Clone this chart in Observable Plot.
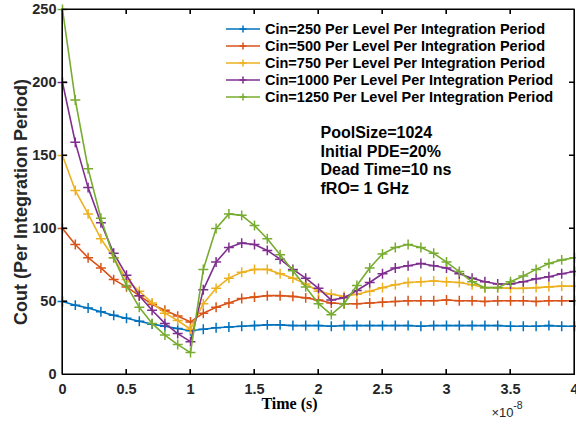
<!DOCTYPE html>
<html><head><meta charset="utf-8">
<script src="https://cdn.jsdelivr.net/npm/d3@7"></script>
<script src="https://cdn.jsdelivr.net/npm/@observablehq/plot@0.6"></script>
<style>
body{margin:0;background:#fff;overflow:hidden}
#chart{position:relative;width:576px;height:425px;overflow:hidden}
#chart svg{display:block}
.edge{position:absolute;background:#000;pointer-events:none}
</style>
</head><body><div id="chart"></div>
<script>
// Time in units of 1e-8 s
const time = [0,0.1,0.2,0.3,0.4,0.5,0.6,0.7,0.8,0.9,1.0,1.1,1.2,1.3,1.4,1.5,1.6,1.7,1.8,1.9,2.0,2.1,2.2,2.3,2.4,2.5,2.6,2.7,2.8,2.9,3.0,3.1,3.2,3.3,3.4,3.5,3.6,3.7,3.8,3.9,4.0];
const cin250 = [50,47.5,45.5,43,40.5,38.5,36.5,34.5,33,31.5,30,31,32,32.5,33,33.5,34,34,33.5,33.5,33.5,33,33.5,33.5,33.5,33.5,33.5,33.5,33,33.5,33.5,33.5,33.5,33.5,33.5,33,33,33,33.5,33,33];
const cin500 = [100,89,80,73,65,60,54,48,44,40,36,42,46,49,52,53,54,54,53.5,52.5,51,49,48.5,48.5,49,49.5,50,50.5,50.5,50.5,51,50.5,50.5,50,50.5,50.5,50.5,50,50.5,50.5,50.5];
const cin750 = [150,126,110,93,80,65,57,49,42,37,31,48.5,59,66,70,72,72,69,66,62,57,55,53.5,55,57,59.5,61.5,63,63.5,64,63.5,63,61.5,59.5,59.5,59,59,59.5,60,60.5,60.5];
const cin1000 = [200,159,128,104,83,68,54,44,35,28,22.5,58,77,87,90,89,85,79,72,66,59,51,52.5,57.5,63,69,73,74.5,76,74.5,73,69,66,63.5,62,62,63.5,65.5,67,69,70.5];
const cin1250 = [250,188,141,107,80,61,46,35,27,20.5,15,72,100,110,109,102,93,82,71,60,48.5,41,48.5,61,73,82.5,87,89,87,83,77,70.5,63.5,59.5,59.5,63.5,67.5,72,76,78.5,80];
const seriesNames = [
  "Cin=250 Per Level Per Integration Period",
  "Cin=500 Per Level Per Integration Period",
  "Cin=750 Per Level Per Integration Period",
  "Cin=1000 Per Level Per Integration Period",
  "Cin=1250 Per Level Per Integration Period"
];
const colors = ["#0072BD","#D95319","#EDB120","#7E2F8E","#77AC30"];
const xTicks = [0,0.5,1,1.5,2,2.5,3,3.5,4];
const yTicks = [0,50,100,150,200,250];
const notes = ["PoolSize=1024","Initial PDE=20%","Dead Time=10 ns","fRO= 1 GHz"];
const xLabel = "Time (s)";
const yLabel = "Cout (Per Integration Period)";

const allSeries = [cin250, cin500, cin750, cin1000, cin1250];
const rowsBySeries = allSeries.map((vals, si) => vals.map((v, i) => ({t: time[i], v, s: seriesNames[si]})));

const sans = "'Liberation Sans', Arial, Helvetica, sans-serif";
const ink = "#262626";
const xDom = d3.extent(xTicks), yDom = d3.extent(yTicks);
const M = {left: 62, right: 2, top: 9, bottom: 51};
const W = 576, H = 425;

const seriesMarks = rowsBySeries.flatMap(rows => [
  Plot.lineY(rows, {x: "t", y: "v", stroke: "s", strokeWidth: 1.6}),
  Plot.dot(rows, {x: "t", y: "v", stroke: "s", symbol: "plus", r: 3.3, strokeWidth: 1.5})
]);

const plot = Plot.plot({
  width: W, height: H,
  marginLeft: M.left, marginRight: M.right, marginTop: M.top, marginBottom: M.bottom,
  style: {fontFamily: sans, fontSize: "14.5px", fontWeight: "bold", color: ink},
  x: {domain: xDom, axis: null},
  y: {domain: yDom, axis: null},
  color: {domain: seriesNames, range: colors},
  marks: [
    ...seriesMarks,
    Plot.frame({stroke: "black", strokeWidth: 1}),
    Plot.axisX({anchor: "bottom", ticks: xTicks, tickSize: 0, tickPadding: 9, tickFormat: d => String(d), label: null, fill: ink}),
    Plot.axisY({anchor: "left", ticks: yTicks, tickSize: 0, tickPadding: 6, label: null, fill: ink}),
    Plot.text([yLabel], {frameAnchor: "left", textAnchor: "middle", lineAnchor: "middle", rotate: -90, dx: -41, dy: 10, fontSize: 18, fill: ink}),
    Plot.text([xLabel], {frameAnchor: "bottom", textAnchor: "middle", lineAnchor: "middle", dx: -29, dy: 29, fontSize: 16, fontFamily: "'Liberation Serif', 'Times New Roman', serif", fill: "#000"}),
    Plot.text(["\u00d710"], {frameAnchor: "bottom-right", textAnchor: "end", lineAnchor: "middle", dx: -61, dy: 38, fontSize: 13, fontWeight: "normal", fill: ink}),
    Plot.text(["-8"], {frameAnchor: "bottom-right", textAnchor: "end", lineAnchor: "middle", dx: -52, dy: 31, fontSize: 10.5, fontWeight: "normal", fill: ink}),
    Plot.text([notes.join("\n")], {frameAnchor: "top-left", textAnchor: "start", lineAnchor: "top", dx: 258, dy: 115, fontSize: 16, lineHeight: 1.17, fill: "#000"})
  ]
});

const svg = d3.select(plot);
const xs = plot.scale("x"), ys = plot.scale("y");
const fx = v => { const p = xs && xs.apply ? +xs.apply(v) : NaN; return isFinite(p) ? p : M.left + (v - xDom[0]) / (xDom[1] - xDom[0]) * (W - M.left - M.right); };
const fy = v => { const p = ys && ys.apply ? +ys.apply(v) : NaN; return isFinite(p) ? p : H - M.bottom - (v - yDom[0]) / (yDom[1] - yDom[0]) * (H - M.top - M.bottom); };
const X0 = fx(xDom[0]), X1 = fx(xDom[1]), Y0 = fy(yDom[0]), Y1 = fy(yDom[1]);

// In-plot legend (no box), as in the MATLAB figure
const lg = svg.append("g").attr("font-family", sans).attr("font-weight", "bold").attr("font-size", 14.5).attr("text-anchor", "start");
seriesNames.forEach((name, i) => {
  const cy = 29 + i * 17;
  const g = lg.append("g").attr("transform", `translate(0,${cy})`);
  g.append("line").attr("x1", 226).attr("x2", 260).attr("y1", 0).attr("y2", 0).attr("stroke", colors[i]).attr("stroke-width", 1.6);
  g.append("path").attr("d", "M239.5,0H246.5M243,-3.5V3.5").attr("stroke", colors[i]).attr("stroke-width", 1.5).attr("fill", "none");
  g.append("text").attr("x", 265).attr("y", 0).attr("dy", "0.35em").attr("fill", "#000").attr("text-anchor", "start").text(name);
});

// Box and inward ticks (SVG path, from Plot's scales)
let d = `M${X0},${Y1}H${X1}V${Y0}H${X0}Z`;
xTicks.forEach(t => { const px = fx(t); d += `M${px},${Y0}V${Y0 - 5}M${px},${Y1}V${Y1 + 5}`; });
yTicks.forEach(v => { const py = fy(v); d += `M${X0},${py}H${X0 + 5}M${X1},${py}H${X1 - 5}`; });
svg.append("path").attr("d", d).attr("fill", "none").attr("stroke", "black").attr("stroke-width", 1.2);

const host = document.getElementById("chart");
host.appendChild(plot);

// Same box and ticks also as HTML edges over the SVG, positioned from the scales
function edge(x, y, w, h) {
  const e = document.createElement("div");
  e.className = "edge";
  e.style.left = x + "px"; e.style.top = y + "px";
  e.style.width = w + "px"; e.style.height = h + "px";
  host.appendChild(e);
}
const lw = 1;
edge(X0 - 0.5, Y1 - 0.5, X1 - X0 + lw, lw);
edge(X0 - 0.5, Y0 - 0.5, X1 - X0 + lw, lw);
edge(X0 - 0.5, Y1 - 0.5, lw, Y0 - Y1 + lw);
edge(X1 - 0.5, Y1 - 0.5, lw, Y0 - Y1 + lw);
xTicks.forEach(t => { const px = fx(t); edge(px - 0.5, Y0 - 5, lw, 5); edge(px - 0.5, Y1, lw, 5); });
yTicks.forEach(v => { const py = fy(v); edge(X0, py - 0.5, 5, lw); edge(X1 - 5, py - 0.5, 5, lw); });
</script>
</body></html>
